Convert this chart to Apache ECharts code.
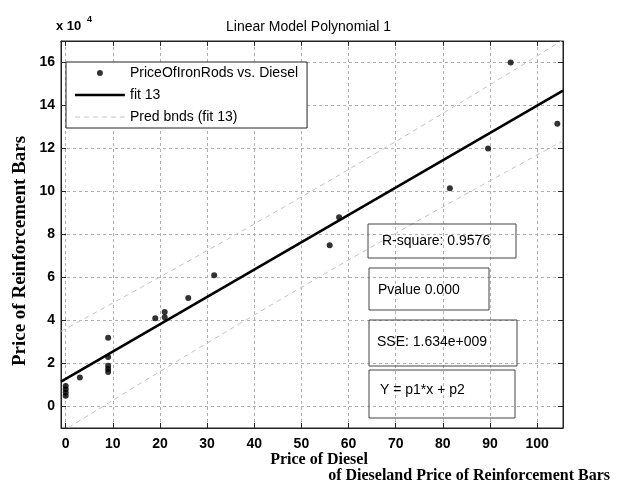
<!DOCTYPE html>
<html>
<head>
<meta charset="utf-8">
<script src="https://cdn.jsdelivr.net/npm/echarts@6/dist/echarts.min.js"></script>
<style>html,body{margin:0;padding:0;background:#fff;}#c{width:617px;height:482px;}</style>
</head>
<body>
<div id="c"></div>
<script>
// Price of diesel (x) and price of reinforcement bars (y)
var dieselPrice = [0, 0, 0, 0, 3, 9, 9, 9, 9, 9, 19, 21, 21, 26, 31.5, 56, 58, 81.5, 89.6, 94.4, 104.3];
var ironRodPrice = [5000, 6500, 8000, 9500, 13500, 32000, 23000, 19000, 17500, 16000, 41000, 44000, 41500, 50500, 61000, 75000, 88000, 101500, 120000, 160000, 131500];
// fitted line (fit 13) read at the axis ends
var fitX = [-1, 105.5];
var fitY = [11600, 146900];
// prediction bounds
var predX = [-1, 52, 105.5];
var predUpper = [35000, 100000, 170500];
var predLower = [-12000, 58000, 123500];
// tick labels
var xTicks = [0, 10, 20, 30, 40, 50, 60, 70, 80, 90, 100];
var yTicks = [0, 2, 4, 6, 8, 10, 12, 14, 16];
var statTexts = ['R-square: 0.9576', 'Pvalue 0.000', 'SSE: 1.634e+009', 'Y = p1*x + p2'];

function zip(a, b) { return a.map(function (v, i) { return [v, b[i]]; }); }

var chart = echarts.init(document.getElementById('c'), null, {renderer: 'canvas'});
var sans = 'Liberation Sans, Arial, Helvetica, sans-serif';
var serif = 'Liberation Serif, Times New Roman, serif';

function xFmt(v) { return xTicks.indexOf(Math.round(v * 1000) / 1000) >= 0 ? String(Math.round(v)) : ''; }
function yFmt(v) { var t = Math.round(v / 1000) / 10; return yTicks.indexOf(t) >= 0 ? String(t) : ''; }

var gridLine = {show: true, lineStyle: {color: '#b0b0b0', type: [3, 3], width: 1}};
var tickIn = {show: true, inside: true, length: 5, lineStyle: {color: '#222'}};
var axLine = {show: true, onZero: false, lineStyle: {color: '#222', width: 1}};

var boxes = [
  {x: 368, y: 224, w: 148, h: 34, tx: 382, ty: 241},
  {x: 369, y: 268, w: 120, h: 42, tx: 378, ty: 290},
  {x: 369, y: 320, w: 148, h: 46, tx: 377, ty: 342},
  {x: 369, y: 370, w: 146, h: 48, tx: 380, ty: 390}
];
var graphics = [];
boxes.forEach(function (b, i) {
  graphics.push({type: 'rect', shape: {x: b.x, y: b.y, width: b.w, height: b.h},
    style: {fill: 'rgba(0,0,0,0)', stroke: '#444', lineWidth: 1}, z: 50});
  graphics.push({type: 'text', x: b.tx, y: b.ty,
    style: {text: statTexts[i], fill: '#000', font: '14px ' + sans, verticalAlign: 'middle'}, z: 51});
});
graphics.push({type: 'text', x: 20, y: 251, rotation: Math.PI / 2,
  style: {text: 'Price of Reinforcement Bars', fill: '#000', font: 'bold 19px ' + serif, align: 'center', verticalAlign: 'middle'}});
graphics.push({type: 'text', x: 319, y: 460,
  style: {text: 'Price of Diesel', fill: '#000', font: 'bold 16px ' + serif, align: 'center', verticalAlign: 'middle'}});
graphics.push({type: 'text', x: 610, y: 476,
  style: {text: 'of Dieseland Price of Reinforcement Bars', fill: '#000', font: 'bold 16px ' + serif, align: 'right', verticalAlign: 'middle'}});
graphics.push({type: 'text', x: 56, y: 26,
  style: {text: 'x 10', fill: '#000', font: 'bold 13px ' + sans, verticalAlign: 'middle'}});
graphics.push({type: 'text', x: 87, y: 20,
  style: {text: '4', fill: '#000', font: 'bold 9px ' + sans, verticalAlign: 'middle'}});

var scatterIcon = 'path://M0,0h0.1M0,14h0.1M50,14h0.1M50,0h0.1M22,7a3,3 0 1,0 6,0a3,3 0 1,0 -6,0z';
var fitIcon = 'path://M0,0h0.1M0,14h0.1M50,14h0.1M50,0h0.1M0,5.7h50v2.6h-50z';
var predIcon = 'path://M0,0h0.1M0,14h0.1M50,14h0.1M50,0h0.1M0,6.5h5v1h-5zM9,6.5h5v1h-5zM18,6.5h5v1h-5zM27,6.5h5v1h-5zM36,6.5h5v1h-5zM45,6.5h5v1h-5z';

chart.setOption({
  animation: false,
  backgroundColor: '#fff',
  title: {text: 'Linear Model Polynomial 1', left: 'center', top: 15,
    textStyle: {fontFamily: sans, fontSize: 14, fontWeight: 'normal', color: '#000'}},
  grid: {left: 61, right: 54, top: 41, bottom: 54, show: true, borderColor: '#222', borderWidth: 1},
  legend: {
    left: 66, top: 62, orient: 'vertical', itemWidth: 50, itemHeight: 14, itemGap: 8,
    padding: [4, 9], backgroundColor: '#fff', borderColor: '#222', borderWidth: 1,
    textStyle: {fontFamily: sans, fontSize: 14, color: '#000'},
    selectedMode: false,
    data: [
      {name: 'PriceOfIronRods vs. Diesel', icon: scatterIcon},
      {name: 'fit 13', icon: fitIcon},
      {name: 'Pred bnds (fit 13)', icon: predIcon}
    ]
  },
  xAxis: [
    {type: 'value', min: -1, max: 105.5, minInterval: 10, maxInterval: 10, splitNumber: 10,
      axisLine: axLine, axisTick: tickIn, splitLine: gridLine,
      axisLabel: {formatter: xFmt, color: '#000', fontFamily: sans, fontSize: 14, fontWeight: 'bold', margin: 9}},
    {type: 'value', position: 'top', min: -1, max: 105.5, minInterval: 10, maxInterval: 10, splitNumber: 10,
      axisLine: axLine, axisTick: tickIn, splitLine: {show: false}, axisLabel: {show: false}}
  ],
  yAxis: [
    {type: 'value', min: -10000, max: 170000, minInterval: 20000, maxInterval: 20000, splitNumber: 9,
      axisLine: axLine, axisTick: tickIn, splitLine: gridLine,
      axisLabel: {formatter: yFmt, color: '#000', fontFamily: sans, fontSize: 14, fontWeight: 'bold', margin: 6}},
    {type: 'value', position: 'right', min: -10000, max: 170000, minInterval: 20000, maxInterval: 20000, splitNumber: 9,
      axisLine: axLine, axisTick: tickIn, splitLine: {show: false}, axisLabel: {show: false}}
  ],
  series: [
    {name: 'Pred bnds (fit 13)', type: 'line', data: zip(predX, predUpper), smooth: true, symbol: 'none', clip: true,
      lineStyle: {color: '#c4c4c4', width: 1, type: [5, 4]}, itemStyle: {color: '#c4c4c4'}, z: 2},
    {name: 'Pred bnds (fit 13)', type: 'line', data: zip(predX, predLower), smooth: true, symbol: 'none', clip: true,
      lineStyle: {color: '#c4c4c4', width: 1, type: [5, 4]}, itemStyle: {color: '#c4c4c4'}, z: 2},
    {name: 'fit 13', type: 'line', data: zip(fitX, fitY), symbol: 'none', clip: true,
      lineStyle: {color: '#000', width: 2.6}, itemStyle: {color: '#000'}, z: 3},
    {name: 'PriceOfIronRods vs. Diesel', type: 'scatter', data: zip(dieselPrice, ironRodPrice),
      symbolSize: 6, itemStyle: {color: '#000'}, z: 4}
  ],
  graphic: graphics
});
</script>
</body>
</html>
